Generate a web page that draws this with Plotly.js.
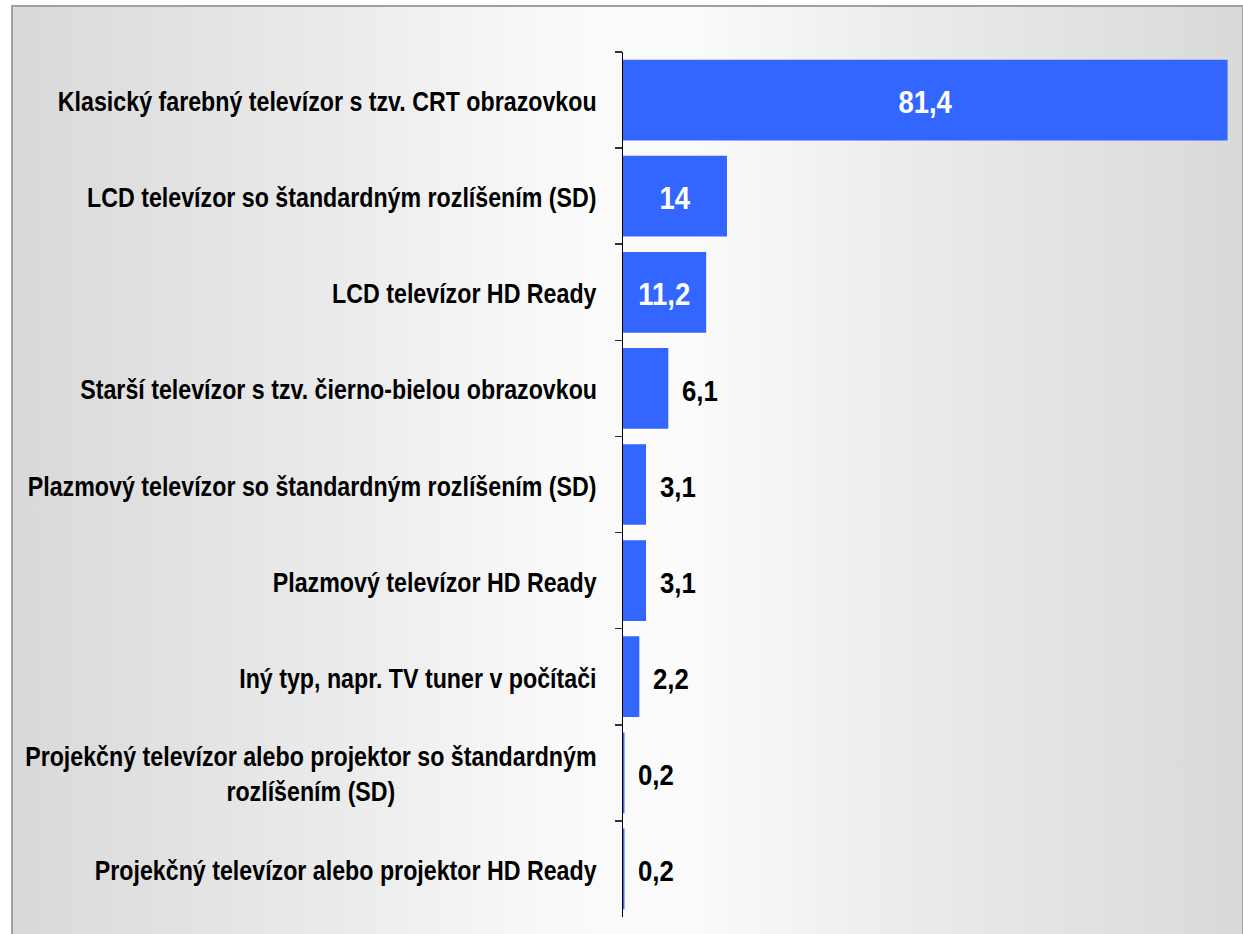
<!DOCTYPE html>
<html>
<head>
<meta charset="utf-8">
<script src="https://cdn.plot.ly/plotly-3.0.1.min.js"></script>
<style>
html,body{margin:0;padding:0;background:#ffffff;}
#wrap{position:absolute;left:0;top:0;width:1243px;height:934px;background:#ffffff;overflow:hidden;}
#frame{position:absolute;left:11px;top:5px;width:1229px;height:940px;border:2px solid #a0a0a0;
background:linear-gradient(to right,#d9d9d9 0%,#ececec 28%,#fafafa 45%,#fbfbfb 55%,#ececec 72%,#d9d9d9 100%);}
#chart{position:absolute;left:0;top:0;width:1243px;height:934px;}
</style>
</head>
<body>
<div id="wrap"><div id="frame"></div><div id="chart"></div></div>
<script>
const categories = [
  "Klasický farebný televízor s tzv. CRT obrazovkou",
  "LCD televízor so štandardným rozlíšením (SD)",
  "LCD televízor HD Ready",
  "Starší televízor s tzv. čierno-bielou obrazovkou",
  "Plazmový televízor so štandardným rozlíšením (SD)",
  "Plazmový televízor HD Ready",
  "Iný typ, napr. TV tuner v počítači",
  "Projekčný televízor alebo projektor so štandardným<br>rozlíšením (SD)",
  "Projekčný televízor alebo projektor HD Ready"
];
const values = [81.4, 14, 11.2, 6.1, 3.1, 3.1, 2.2, 0.2, 0.2];
const insideLimit = 10;

const FONT = "'Liberation Sans Narrow', 'Arial Narrow', 'Liberation Sans', Arial, sans-serif";
const SQUEEZE = 0.86;
const fmt = v => String(v).replace('.', ',');

const trace = {
  type: 'bar',
  orientation: 'h',
  x: values,
  y: categories,
  width: 0.84,
  marker: {color: '#3366FF', line: {width: 0}},
  hoverinfo: 'skip',
  cliponaxis: false
};

const annotations = [];
const pivots = [];
categories.forEach((c, i) => {
  annotations.push({
    xref: 'paper', x: 0, y: c, yref: 'y',
    xanchor: 'right', yanchor: 'middle', xshift: -24, yshift: -2,
    text: '<b>' + c + '</b>', showarrow: false, align: 'center',
    font: {family: FONT, size: 27, color: '#000000'}
  });
  pivots.push('right');
  if (values[i] >= insideLimit) {
    annotations.push({
      xref: 'x', x: values[i] / 2, y: c, yref: 'y',
      xanchor: 'center', yanchor: 'middle', yshift: -2,
      text: '<b>' + fmt(values[i]) + '</b>', showarrow: false,
      font: {family: FONT, size: 32, color: '#ffffff'}
    });
    pivots.push('center');
  } else {
    annotations.push({
      xref: 'x', x: values[i], y: c, yref: 'y',
      xanchor: 'left', yanchor: 'middle', xshift: 12, yshift: -2,
      text: '<b>' + fmt(values[i]) + '</b>', showarrow: false,
      font: {family: FONT, size: 30, color: '#000000'}
    });
    pivots.push('left');
  }
});

const layout = {
  width: 1243, height: 934,
  margin: {l: 623, r: 8, t: 52, b: 17, pad: 0},
  paper_bgcolor: 'rgba(0,0,0,0)',
  plot_bgcolor: 'rgba(0,0,0,0)',
  showlegend: false,
  xaxis: {range: [0, 82.4], visible: false, fixedrange: true},
  yaxis: {
    type: 'category', autorange: 'reversed',
    showticklabels: false,
    tickson: 'boundaries', ticks: 'outside', ticklen: 7, tickwidth: 1.5, tickcolor: '#333333',
    showline: true, linecolor: '#000000', linewidth: 1.5,
    showgrid: false, zeroline: false, fixedrange: true
  },
  annotations: annotations
};

Plotly.newPlot('chart', [trace], layout, {displayModeBar: false, staticPlot: true}).then(gd => {
  // condense the text horizontally to imitate a narrow typeface
  gd.querySelectorAll('g.annotation').forEach(g => {
    const idx = +g.getAttribute('data-index');
    const t = g.querySelector('text.annotation-text');
    if (!t) return;
    const bb = t.getBBox();
    let px = bb.x + bb.width / 2;
    if (pivots[idx] === 'right') px = bb.x + bb.width;
    if (pivots[idx] === 'left') px = bb.x;
    const prev = t.getAttribute('transform') || '';
    t.setAttribute('transform', prev + ' translate(' + px + ',0) scale(' + SQUEEZE + ',1) translate(' + (-px) + ',0)');
  });
});
</script>
</body>
</html>
